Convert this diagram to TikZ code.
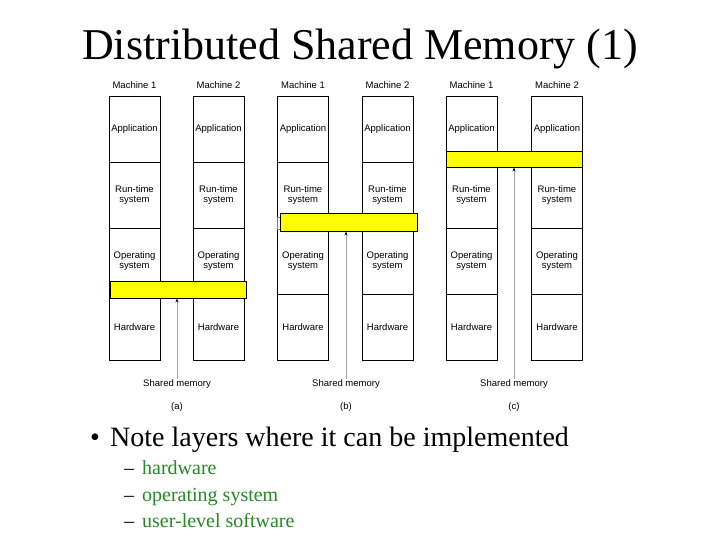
\documentclass[tikz,border=0pt]{standalone}
\usepackage{fontspec}
\setmainfont{Liberation Serif}
\newfontfamily\diagfont{Liberation Sans}
\usetikzlibrary{arrows.meta}
\definecolor{bargreen}{RGB}{34,139,34}
\definecolor{memyellow}{RGB}{255,255,0}
\begin{document}
\begin{tikzpicture}[x=1pt,y=-1pt,
  cell/.style={draw=black,line width=0.9pt,minimum width=51pt,minimum height=66pt,inner sep=0pt,align=center,font=\diagfont\fontsize{9.5}{10}\selectfont},
  lbl/.style={inner sep=0pt,font=\diagfont\fontsize{9.5}{10}\selectfont},
  membar/.style={draw=black,line width=0.9pt,fill=memyellow,inner sep=0pt},
  memarrow/.style={draw=gray!70,line width=0.8pt,-{Stealth[length=4pt,width=3pt,black]}},
  sub/.style={anchor=base west,inner sep=0pt,text=bargreen,font=\fontsize{20}{22}\selectfont}]
\useasboundingbox (0,0) rectangle (720,540);
\node[anchor=base,inner sep=0pt,font=\fontsize{44}{48}\selectfont] (title) at (360,60) {Distributed Shared Memory (1)};
% columns
\foreach \p/\xa/\xb in {a/134.5/218.5, b/303/387.5, c/471.5/557}{
  \node[lbl] (m1\p) at (\xa,85) {Machine 1};
  \node[lbl] (m2\p) at (\xb,85) {Machine 2};
  \foreach \m/\x in {1/\xa,2/\xb}{
    \node[cell] (app\m\p) at (\x,129) {Application};
    \node[cell] (rts\m\p) at (\x,195) {Run-time\\system};
    \node[cell] (os\m\p) at (\x,261) {Operating\\system};
    \node[cell] (hw\m\p) at (\x,327) {Hardware};
  }
}
% shared memory bars
\node[membar,minimum width=136pt,minimum height=17pt] (bara) at (178,289.5) {};
\node[draw=gray,line width=0.6pt,fill=white,minimum width=3pt,minimum height=12pt,inner sep=0pt] (tabb) at (278.5,223) {};
\node[membar,minimum width=137pt,minimum height=18pt] (barb) at (348.5,222) {};
\node[membar,minimum width=136pt,minimum height=16pt] (barc) at (514,159) {};
% labels and arrows
\foreach \p/\x in {a/177,b/346,c/514}{
  \node[lbl] (sm\p) at (\x,384) {Shared memory};
  \node[lbl] (cap\p) at (\x,407) {(\p)};
  \draw[memarrow] (sm\p.north) -- (sm\p.north |- bar\p.south);
}
% bullets
\node[anchor=base west,inner sep=0pt,font=\fontsize{28}{30}\selectfont] (bul) at (90,446) {\textbullet};
\node[anchor=base west,inner sep=0pt,font=\fontsize{28}{30}\selectfont] (note) at (110,446) {Note layers where it can be implemented};
\node[anchor=base west,inner sep=0pt,font=\fontsize{20}{22}\selectfont] (d1) at (124,474) {--};
\node[sub] (s1) at (142,474) {hardware};
\node[anchor=base west,inner sep=0pt,font=\fontsize{20}{22}\selectfont] (d2) at (124,501) {--};
\node[sub] (s2) at (142,501) {operating system};
\node[anchor=base west,inner sep=0pt,font=\fontsize{20}{22}\selectfont] (d3) at (124,527) {--};
\node[sub] (s3) at (142,527) {user-level software};
\end{tikzpicture}
\end{document}
